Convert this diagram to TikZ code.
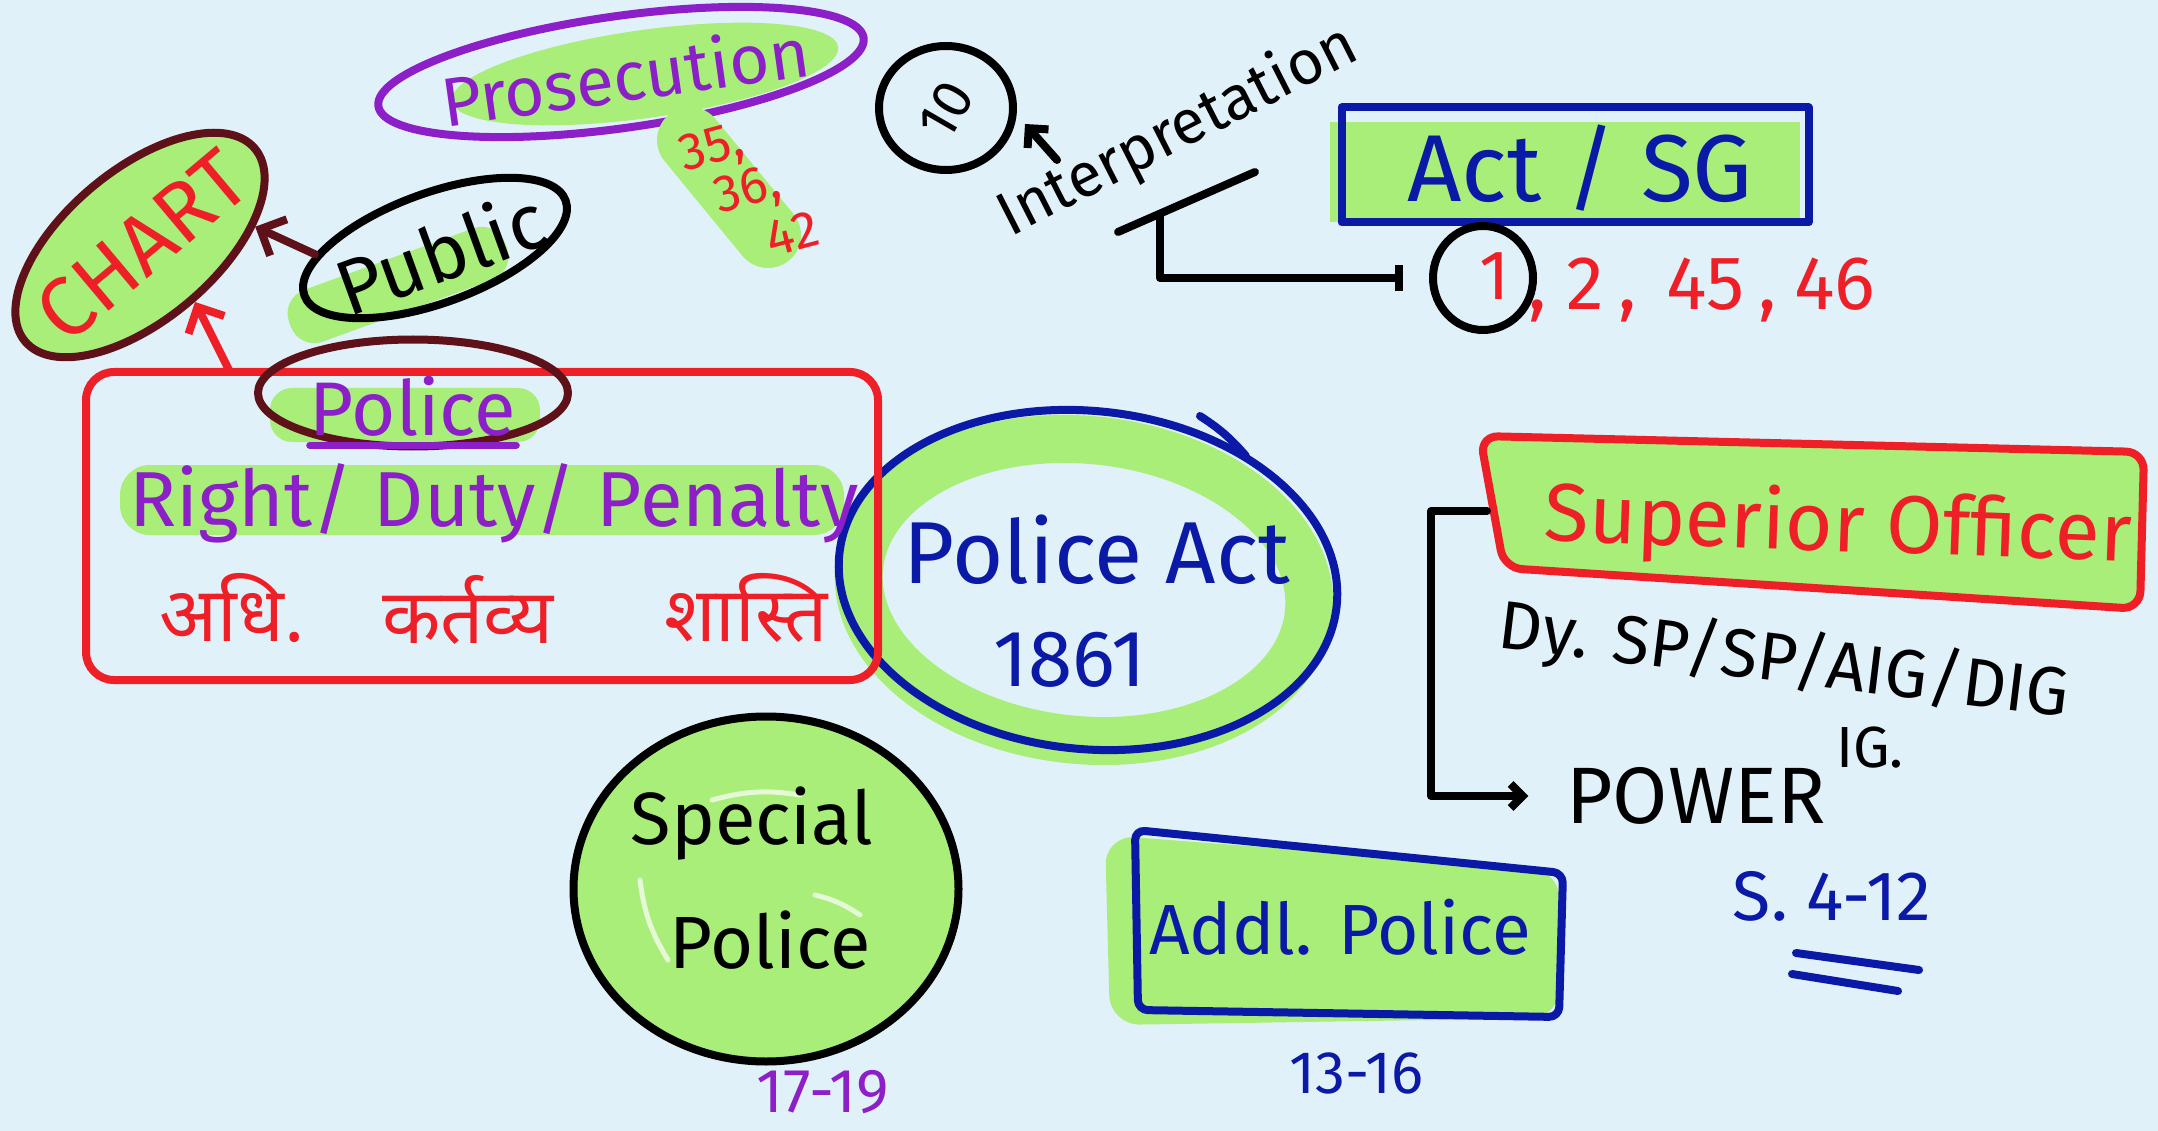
\documentclass[tikz,border=0pt]{standalone}
\usepackage{fontspec}
\setmainfont{Fira Sans}
\newfontfamily\hindi[Script=Devanagari]{Noto Sans}
\usetikzlibrary{shapes.geometric,arrows.meta}
\definecolor{bgc}{HTML}{E1F1FA}
\definecolor{hl}{HTML}{A8EE78}
\definecolor{pred}{HTML}{EE1F26}
\definecolor{ppur}{HTML}{8C1FC8}
\definecolor{pblue}{HTML}{0A1AA6}
\definecolor{pmar}{HTML}{5E1118}
\newcommand{\fsz}[1]{\fontsize{#1}{#1}\selectfont}
\begin{document}
\begin{tikzpicture}[x=1pt,y=-1pt,line cap=round,line join=round,
  pen/.style={line width=8pt},
  txt/.style={inner sep=0pt,font=\fsz{#1}},
  oval/.style={ellipse,inner sep=0pt},
  barb/.style={-{Straight Barb[length=#1,width=2*#1]}},
  shine/.style={white,line width=5pt,opacity=0.7}]
\fill[bgc] (0,0) rectangle (2158,1131);
\useasboundingbox (0,0) rectangle (2158,1131);

% ---------- Prosecution ----------
\node[oval,fill=hl,minimum width=390,minimum height=88,rotate=8] (prosHl) at (645,74) {};
\node[oval,draw=ppur,pen,minimum width=490,minimum height=112,rotate=8] (pros) at (621,72) {};
\node[txt=69,text=ppur,rotate=8] (prosT) at (625,75) {Prosecution};
\draw[hl,line width=66pt] (690,140) -- (768,235);
\node[txt=52,text=pred,rotate=15] (s35) at (712,150) {35,};
\node[txt=52,text=pred,rotate=15] (s36) at (748,192) {36,};
\node[txt=52,text=pred,rotate=15] (s42) at (792,234) {42};

% ---------- CHART / Public ----------
\node[oval,draw=pmar,fill=hl,pen,minimum width=300,minimum height=150,rotate=40] (chart) at (140,245) {};
\node[txt=84,text=pred,rotate=40] (chartT) at (142,246) {CHART};
\node[fill=hl,rounded corners=25,minimum width=230,minimum height=55,rotate=20] (pubHl) at (398,285) {};
\node[oval,draw=black,pen,minimum width=278,minimum height=110,rotate=20] (public) at (435,248) {};
\node[txt=78,rotate=20] (publicT) at (440,252) {Public};
\draw[pmar,pen,barb=20pt] (public.163) -- (chart.-31);

% ---------- Police Act ----------
\node[oval,draw=hl,line width=48pt,minimum width=452,minimum height=300,rotate=-6] (paHl) at (1084,590) {};
\node[oval,draw=pblue,pen,minimum width=500,minimum height=338,rotate=-6] (pa) at (1088,580) {};
\draw[pblue,pen] (1200,416) to[bend left=8] (1246,456);
\node[txt=88,text=pblue] (paT) at (1097,550) {Police Act};
\node[txt=80,text=pblue] (paY) at (1070,660) {1861};

% ---------- Police box ----------
\node[fill=hl,rounded corners=30,minimum width=724,minimum height=70] (rdpHl) at (482,500) {};
\node[fill=hl,rounded corners=22,minimum width=270,minimum height=54] (polHl) at (405,415) {};
\node[draw=pred,pen,rounded corners=28,minimum width=792,minimum height=308] (policebox) at (482,526) {};
\node[oval,draw=pmar,pen,minimum width=310,minimum height=107] (polEl) at (413,393) {};
\node[txt=76,text=ppur] (polT) at (413,406) {Police};
\draw[ppur,line width=7pt] ([yshift=-10pt]polT.base west) -- ([yshift=-10pt]polT.base east);
\node[txt=78,text=ppur] (rdp) at (494,503) {Right/ Duty/ Penalty};
\node[inner sep=0pt,text=pred,font=\hindi\fsz{76}] (h1) at (232,608) {अधि.};
\node[inner sep=0pt,text=pred,font=\hindi\fsz{76}] (h2) at (468,610) {कर्तव्य};
\node[inner sep=0pt,text=pred,font=\hindi\fsz{76}] (h3) at (746,608) {शास्ति};
\coordinate (pbTop) at (230,372);
\draw[pred,pen,barb=20pt] (pbTop) -- (chart.-86);

% ---------- 10 / Interpretation ----------
\node[oval,draw=black,pen,minimum width=134,minimum height=124] (ten) at (946,108) {};
\node[txt=56,rotate=60] (tenT) at (946,110) {10};
\coordinate (upS) at (1057,160);
\coordinate (upE) at (1025,124);
\draw[pen,barb=14pt] (upS) -- (upE);
\node[txt=62,rotate=27] (interp) at (1178,132) {Interpretation};
\coordinate (tickA) at (1118,232);
\coordinate (tickB) at (1255,172);
\draw[pen] (tickA) -- (tickB);
\coordinate (interpC) at (1160,215);

% ---------- Act / SG ----------
\node[fill=hl,minimum width=470,minimum height=100] (actHl) at (1565,172) {};
\node[draw=pblue,pen,minimum width=467,minimum height=115] (act) at (1575,165) {};
\node[txt=95,text=pblue] (actT) at (1580,168) {Act / SG};
\node[oval,draw=black,pen,minimum width=100,minimum height=104] (one) at (1483,278) {};
\node[txt=70,text=pred] (oneT) at (1495,276) {1};
\node[txt=76,text=pred,anchor=west] (nums) at (1528,290) {,\hspace{20pt}2\hspace{14pt},\hspace{30pt}45\hspace{14pt},\hspace{18pt}46};
\draw[pen,-{Bar[width=26pt]},shorten >=26pt] (interpC) |- (one.west);

% ---------- Superior Officer ----------
\draw[pred,pen,rounded corners=18,fill=hl] (1480,436) -- (2144,452) -- (2140,609) -- (1504,568) -- cycle;
\node[txt=82,text=pred,rotate=-2] (supT) at (1838,528) {Superior Officer};
\coordinate (supL) at (1487,511);
\node[txt=68,rotate=-7] (dy) at (1784,662) {Dy. SP/SP/AIG/DIG};
\node[txt=58] (ig) at (1870,748) {IG.};
\node[txt=80] (power) at (1696,796) {POWER};
\draw[pen,barb=12pt,shorten >=38pt] (supL) -- ++(-56,0) |- (power.west);
\node[txt=70,text=pblue] (sec) at (1832,896) {S. 4-12};
\draw[pblue,pen] (1796,953) -- (1919,970);
\draw[pblue,pen] (1792,974) -- (1898,991);

% ---------- Special Police ----------
\node[oval,draw=black,fill=hl,pen,minimum width=385,minimum height=345] (sp) at (766,889) {};
\draw[shine] (712,800) to[bend left=12] (800,795);
\draw[shine] (640,880) to[bend right=12] (668,960);
\draw[shine] (815,895) to[bend left=10] (860,915);
\node[txt=74] (spT1) at (752,824) {Special};
\node[txt=74] (spT2) at (770,940) {Police};
\node[txt=62,text=ppur] (sp1719) at (823,1092) {17-19};

% ---------- Addl. Police ----------
\path[fill=hl,rounded corners=30] (1105,835) -- (1560,870) -- (1560,1018) -- (1110,1025) -- cycle;
\draw[pblue,pen,rounded corners=10] (1135,830) -- (1563,873) -- (1559,1017) -- (1138,1010) -- cycle;
\node[txt=71,text=pblue] (addl) at (1340,927) {Addl. Police};
\node[txt=60,text=pblue] (addlN) at (1356,1073) {13-16};
\end{tikzpicture}
\end{document}
